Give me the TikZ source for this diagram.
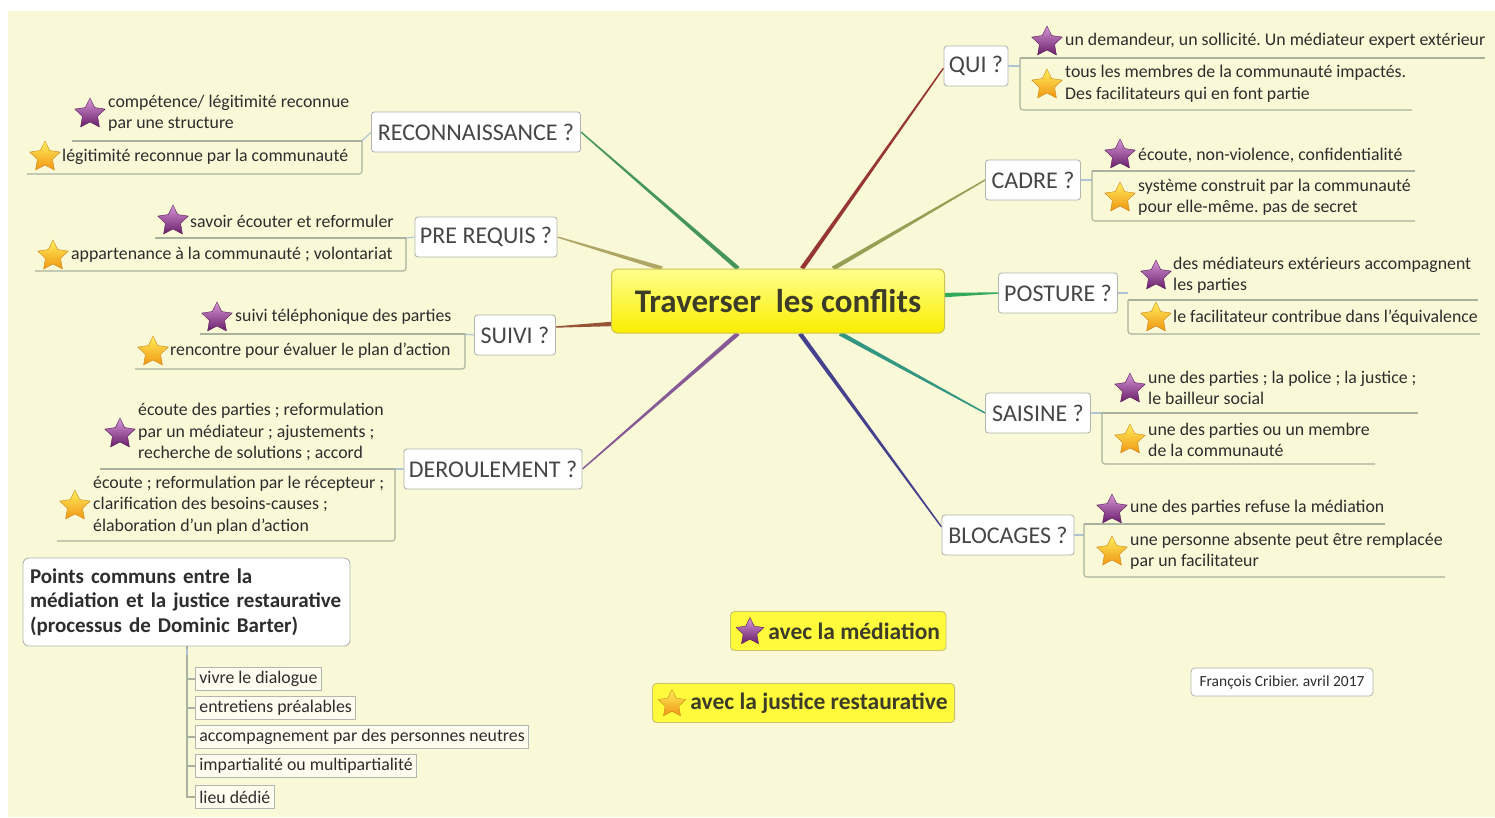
\documentclass[tikz,border=0pt]{standalone}
\usepackage{fontspec}
\setmainfont{Carlito}
\frenchspacing
\usetikzlibrary{shapes.geometric,calc}
\pgfdeclarelayer{bgl}
\pgfdeclarelayer{back}
\pgfsetlayers{bgl,back,main}
\definecolor{bg}{RGB}{249,248,215}
\definecolor{txt}{RGB}{45,45,45}
\definecolor{ttxt}{RGB}{70,70,70}
\definecolor{topicb}{RGB}{178,182,176}
\definecolor{ulc}{RGB}{168,178,158}
\definecolor{junc}{RGB}{175,195,215}
\definecolor{pTop}{RGB}{215,150,215}
\definecolor{pBot}{RGB}{105,30,105}
\definecolor{pDraw}{RGB}{90,30,90}
\definecolor{gTop}{RGB}{255,238,90}
\definecolor{gBot}{RGB}{240,150,20}
\definecolor{gDraw}{RGB}{205,135,25}
\definecolor{brReco}{RGB}{70,150,90}
\definecolor{brPre}{RGB}{175,165,100}
\definecolor{brSuivi}{RGB}{150,85,55}
\definecolor{brDer}{RGB}{135,90,150}
\definecolor{brQui}{RGB}{150,55,50}
\definecolor{brCadre}{RGB}{150,160,85}
\definecolor{brPost}{RGB}{50,170,90}
\definecolor{brSais}{RGB}{50,150,130}
\definecolor{brBloc}{RGB}{70,65,140}
\definecolor{legfill}{RGB}{255,250,60}
\definecolor{legdraw}{RGB}{200,195,110}
\definecolor{cenTop}{RGB}{255,255,140}
\definecolor{cenBot}{RGB}{250,238,0}
\definecolor{cenDraw}{RGB}{205,195,80}
\definecolor{cenTxt}{RGB}{60,60,40}
\newcommand\lfnt{\fontsize{17.8}{21.5}\selectfont}
\newcommand\tfnt{\fontsize{24}{28}\selectfont}
\newcommand\taper[3]{%
  \fill[#3] ($#1!2.2pt!90:#2$) -- ($#2!0.7pt!-90:#1$) -- ($#2!0.7pt!90:#1$) -- ($#1!2.2pt!-90:#2$) -- cycle;}
\tikzset{
  leaftxt/.style={font=\lfnt, text=txt, inner sep=0pt, align=left, anchor=west},
  topic/.style={draw=topicb, fill=white, rounded corners=3pt, font=\tfnt, text=ttxt,
    minimum height=40pt, inner sep=0pt, line width=0.9pt},
  pstar/.style={star, star points=5, star point ratio=2.0, minimum size=32pt, inner sep=0pt,
    top color=pTop, bottom color=pBot, draw=pDraw, line width=0.4pt},
  gstar/.style={star, star points=5, star point ratio=2.0, minimum size=32pt, inner sep=0pt,
    top color=gTop, bottom color=gBot, draw=gDraw, line width=0.4pt},
  uline/.style={draw=ulc, line width=1.1pt},
  jline/.style={draw=junc, line width=1.1pt},
  smallbox/.style={draw=topicb, fill=white!60!bg, font=\lfnt, text=txt, inner xsep=4pt,
    minimum height=23pt, inner ysep=0pt, anchor=west, line width=0.8pt},
  legend/.style={draw=legdraw, fill=legfill, rounded corners=4pt, line width=0.9pt, anchor=west,
    font=\fontsize{23.5}{27}\selectfont\bfseries, text=cenTxt, minimum height=39pt, inner sep=0pt},
}
\begin{document}
\begin{tikzpicture}[x=1pt,y=-1pt]
\useasboundingbox (0,0) rectangle (1495,817);
\begin{pgfonlayer}{bgl}
\fill[white] (0,0) rectangle (1495,817);
\fill[bg] (8,11) rectangle (1495,817);
\end{pgfonlayer}

% central node
\node[draw=cenDraw, top color=cenTop, bottom color=cenBot, rounded corners=6pt, line width=1pt,
  minimum width=333pt, minimum height=64pt, inner sep=0pt,
  font=\fontsize{33}{38}\selectfont\bfseries, text=cenTxt] (cen) at (778,301) {Traverser\ \ les conflits};

% topic nodes
\node[topic, minimum width=209pt] (reco) at (476,132) {RECONNAISSANCE ?};
\node[topic, minimum width=142pt] (pre) at (486,237) {PRE REQUIS ?};
\node[topic, minimum width=81pt] (suivi) at (515,335) {SUIVI ?};
\node[topic, minimum width=178pt] (der) at (493,469) {DEROULEMENT ?};
\node[topic, minimum width=64pt] (qui) at (976,66) {QUI ?};
\node[topic, minimum width=95pt] (cadre) at (1033,180) {CADRE ?};
\node[topic, minimum width=119pt] (post) at (1058,293) {POSTURE ?};
\node[topic, minimum width=105pt] (sais) at (1038,413) {SAISINE ?};
\node[topic, minimum width=132pt] (bloc) at (1008,535) {BLOCAGES ?};

% branch anchors on the central node
\coordinate (c-reco) at ([xshift=-40pt]cen.north);
\coordinate (c-pre) at ([xshift=-116pt]cen.north);
\coordinate (c-suivi) at ([yshift=-23pt]cen.west);
\coordinate (c-der) at ([xshift=-40pt]cen.south);
\coordinate (c-qui) at ([xshift=24pt]cen.north);
\coordinate (c-cadre) at ([xshift=55pt]cen.north);
\coordinate (c-post) at ([yshift=6pt]cen.east);
\coordinate (c-sais) at ([xshift=62pt]cen.south);
\coordinate (c-bloc) at ([xshift=22pt]cen.south);
\coordinate (t-suivi) at ([yshift=8pt]suivi.east);
\coordinate (t-bloc) at ([yshift=8pt]bloc.west);
\coordinate (t-qui) at ([yshift=-2pt]qui.west);

\begin{pgfonlayer}{back}
\taper{(c-reco)}{(reco.east)}{brReco}
\taper{(c-pre)}{(pre.east)}{brPre}
\taper{(c-suivi)}{(t-suivi)}{brSuivi}
\taper{(c-der)}{(der.east)}{brDer}
\taper{(c-qui)}{(t-qui)}{brQui}
\taper{(c-cadre)}{(cadre.west)}{brCadre}
\taper{(c-post)}{(post.west)}{brPost}
\taper{(c-sais)}{(sais.west)}{brSais}
\taper{(c-bloc)}{(t-bloc)}{brBloc}
\end{pgfonlayer}

%%%%%%%% LEFT SIDE %%%%%%%%
% RECONNAISSANCE
\node[pstar] (s-reco1) at (90,114) {};
\node[leaftxt] (l-reco1) at (108,113.5) {compétence/ légitimité reconnue\\par une structure};
\node[gstar] (s-reco2) at (45,157) {};
\node[leaftxt] (l-reco2) at (62,157) {légitimité reconnue par la communauté};
\coordinate (reco-b1) at (362,141); \coordinate (reco-b2) at (362,174);
\coordinate (reco-e1) at (72,141); \coordinate (reco-e2) at (27,174);
\draw[jline] (reco.west) -- (reco-b1);
\draw[uline] (reco-b1) -- (reco-e1);
\draw[uline, rounded corners=3pt] (reco-b1) -- (reco-b2) -- (reco-e2);

% PRE REQUIS
\node[pstar] (s-pre1) at (173,221) {};
\node[leaftxt] (l-pre1) at (190,221) {savoir écouter et reformuler};
\node[gstar] (s-pre2) at (53,256) {};
\node[leaftxt] (l-pre2) at (71,255) {appartenance à la communauté ; volontariat};
\coordinate (pre-b1) at (406,238); \coordinate (pre-b2) at (406,271);
\coordinate (pre-e1) at (155,238); \coordinate (pre-e2) at (35,271);
\draw[jline] (pre.west) -- (pre-b1);
\draw[uline] (pre-b1) -- (pre-e1);
\draw[uline, rounded corners=3pt] (pre-b1) -- (pre-b2) -- (pre-e2);

% SUIVI
\node[pstar] (s-suivi1) at (217,318) {};
\node[leaftxt] (l-suivi1) at (235,317) {suivi téléphonique des parties};
\node[gstar] (s-suivi2) at (153,352) {};
\node[leaftxt] (l-suivi2) at (170,351) {rencontre pour évaluer le plan d'action};
\coordinate (suivi-b1) at (465,334); \coordinate (suivi-b2) at (465,369);
\coordinate (suivi-e1) at (200,334); \coordinate (suivi-e2) at (135,369);
\draw[jline] (suivi.west) -- (suivi-b1);
\draw[uline] (suivi-b1) -- (suivi-e1);
\draw[uline, rounded corners=3pt] (suivi-b1) -- (suivi-b2) -- (suivi-e2);

% DEROULEMENT
\node[pstar] (s-der1) at (120,434) {};
\node[leaftxt] (l-der1) at (138,432) {écoute des parties ; reformulation\\par un médiateur ; ajustements ;\\recherche de solutions ; accord};
\node[gstar] (s-der2) at (75,506) {};
\node[leaftxt] (l-der2) at (93,505) {écoute ; reformulation par le récepteur ;\\clarification des besoins-causes ;\\élaboration d'un plan d'action};
\coordinate (der-b1) at (395,469); \coordinate (der-b2) at (395,541);
\coordinate (der-e1) at (100,469); \coordinate (der-e2) at (57,541);
\draw[jline] (der.west) -- (der-b1);
\draw[uline] (der-b1) -- (der-e1);
\draw[uline, rounded corners=3pt] (der-b1) -- (der-b2) -- (der-e2);

%%%%%%%% RIGHT SIDE %%%%%%%%
% QUI
\node[pstar] (s-qui1) at (1047,42) {};
\node[leaftxt] (l-qui1) at (1065,41) {un demandeur, un sollicité. Un médiateur expert extérieur};
\node[gstar] (s-qui2) at (1047,85) {};
\node[leaftxt] (l-qui2) at (1065,84) {tous les membres de la communauté impactés.\\Des facilitateurs qui en font partie};
\coordinate (qui-b1) at (1020,58); \coordinate (qui-b2) at (1020,110);
\coordinate (qui-e1) at (1485,58); \coordinate (qui-e2) at (1412,110);
\draw[jline] (qui.east) -- (qui.east -| qui-b1);
\draw[uline] (qui-b1) -- (qui-e1);
\draw[uline, rounded corners=3pt] (qui-b1) -- (qui-b2) -- (qui-e2);

% CADRE
\node[pstar] (s-cadre1) at (1120,155) {};
\node[leaftxt] (l-cadre1) at (1138,155) {écoute, non-violence, confidentialité};
\node[gstar] (s-cadre2) at (1120,198) {};
\node[leaftxt] (l-cadre2) at (1138,197) {système construit par la communauté\\pour elle-même. pas de secret};
\coordinate (cadre-b1) at (1092,171); \coordinate (cadre-b2) at (1092,221);
\coordinate (cadre-e1) at (1415,171); \coordinate (cadre-e2) at (1415,221);
\draw[jline] (cadre.east) -- (cadre.east -| cadre-b1);
\draw[uline] (cadre-b1) -- (cadre-e1);
\draw[uline, rounded corners=3pt] (cadre-b1) -- (cadre-b2) -- (cadre-e2);

% POSTURE
\node[pstar] (s-post1) at (1156,276) {};
\node[leaftxt] (l-post1) at (1173,275) {des médiateurs extérieurs accompagnent\\les parties};
\node[gstar] (s-post2) at (1156,318) {};
\node[leaftxt] (l-post2) at (1173,318) {le facilitateur contribue dans l'équivalence};
\coordinate (post-b1) at (1128,300); \coordinate (post-b2) at (1128,334);
\coordinate (post-e1) at (1478,300); \coordinate (post-e2) at (1480,334);
\draw[jline] (post.east) -- (post.east -| post-b1);
\draw[uline] (post-b1) -- (post-e1);
\draw[uline, rounded corners=3pt] (post-b1) -- (post-b2) -- (post-e2);

% SAISINE
\node[pstar] (s-sais1) at (1130,389) {};
\node[leaftxt] (l-sais1) at (1148,388) {une des parties ; la police ; la justice ;\\le bailleur social};
\node[gstar] (s-sais2) at (1130,440) {};
\node[leaftxt] (l-sais2) at (1148,440) {une des parties ou un membre\\de la communauté};
\coordinate (sais-b1) at (1102,413); \coordinate (sais-b2) at (1102,464);
\coordinate (sais-e1) at (1418,413); \coordinate (sais-e2) at (1375,464);
\draw[jline] (sais.east) -- (sais.east -| sais-b1);
\draw[uline] (sais-b1) -- (sais-e1);
\draw[uline, rounded corners=3pt] (sais-b1) -- (sais-b2) -- (sais-e2);

% BLOCAGES
\node[pstar] (s-bloc1) at (1112,510) {};
\node[leaftxt] (l-bloc1) at (1130,508) {une des parties refuse la médiation};
\node[gstar] (s-bloc2) at (1112,552) {};
\node[leaftxt] (l-bloc2) at (1130,551) {une personne absente peut être remplacée\\par un facilitateur};
\coordinate (bloc-b1) at (1084,524); \coordinate (bloc-b2) at (1084,577);
\coordinate (bloc-e1) at (1385,524); \coordinate (bloc-e2) at (1445,577);
\draw[jline] (bloc.east) -- (bloc.east -| bloc-b1);
\draw[uline] (bloc-b1) -- (bloc-e1);
\draw[uline, rounded corners=3pt] (bloc-b1) -- (bloc-b2) -- (bloc-e2);

%%%%%%%% BOTTOM LEFT %%%%%%%%
\node[draw=topicb, fill=white, rounded corners=6pt, line width=0.9pt, minimum width=327pt,
  minimum height=88pt, inner xsep=7pt, inner ysep=0pt, align=left, text width=313pt,
  font=\fontsize{21}{24.5}\selectfont\bfseries, text=txt] (pc) at (186.5,602)
  {Points communs entre la\\médiation et la justice restaurative\\(processus de Dominic Barter)};
\coordinate (pc-trunk) at (187,797);
\node[smallbox] (pc1) at (195,679) {vivre le dialogue};
\node[smallbox] (pc2) at (195,708) {entretiens préalables};
\node[smallbox] (pc3) at (195,737) {accompagnement par des personnes neutres};
\node[smallbox] (pc4) at (195,766) {impartialité ou multipartialité};
\node[smallbox] (pc5) at (195,797) {lieu dédié};
\draw[uline] (pc.south -| pc-trunk) -- (pc-trunk) -- (pc5.west);
\foreach \i in {1,2,3,4}{\draw[uline] (pc\i.west) -- (pc\i.west -| pc-trunk);}
\draw[jline] ([yshift=-3pt]pc.south -| pc-trunk) -- ++(0,6);

%%%%%%%% LEGEND %%%%%%%%
\node[legend] (leg1) at (730,631) {\hspace*{38pt}avec la médiation\hspace*{6pt}};
\node[pstar, minimum size=29pt] (leg1s) at (750,632) {};
\node[legend] (leg2) at (652,703) {\hspace*{38pt}avec la justice restaurative\hspace*{7pt}};
\node[gstar, minimum size=29pt] (leg2s) at (672,704) {};
\node[draw=topicb, fill=white, rounded corners=4pt, line width=0.8pt, minimum width=182pt,
  minimum height=28pt, inner sep=0pt, font=\fontsize{15.5}{18}\selectfont, text=txt] (auth)
  at (1282,682) {François Cribier. avril 2017};
\end{tikzpicture}
\end{document}
